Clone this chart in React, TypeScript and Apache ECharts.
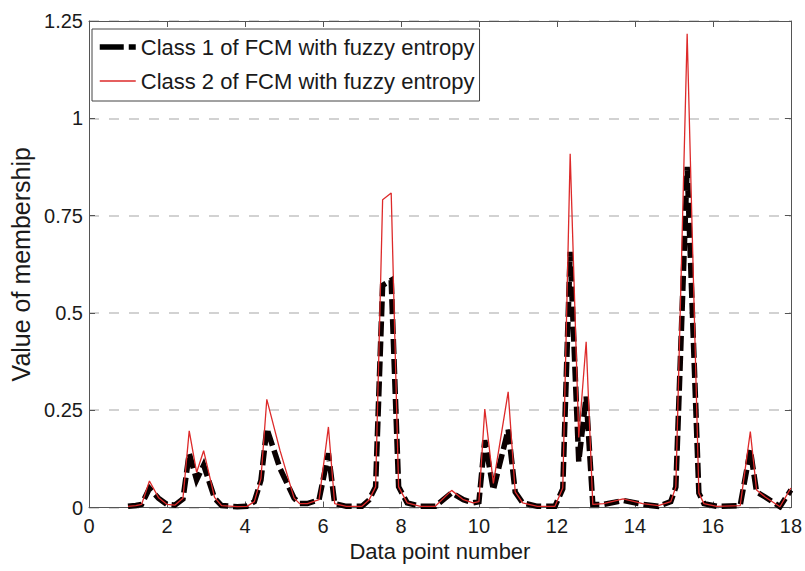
import React, { useEffect, useRef } from "react";
import * as echarts from "echarts";

const xs = [
  1.0, 1.2, 1.35, 1.55, 1.78, 2.0, 2.2, 2.41, 2.57, 2.76, 2.94, 3.22, 3.4, 3.8,
  4.05, 4.24, 4.41, 4.56, 4.9, 5.26, 5.4, 5.6, 5.9, 6.14, 6.3, 6.6, 7.0, 7.18,
  7.35, 7.53, 7.75, 7.94, 8.16, 8.5, 8.88, 9.3, 9.6, 9.85, 10.0, 10.15, 10.37,
  10.75, 10.93, 11.12, 11.5, 11.95, 12.15, 12.34, 12.56, 12.75, 12.92, 13.2,
  13.7, 14.2, 14.6, 14.92, 15.05, 15.34, 15.64, 15.77, 16.1, 16.7, 16.96, 17.12,
  17.34, 17.72, 18.0,
];

const class1 = [
  0.003, 0.005, 0.008, 0.049, 0.024, 0.008, 0.006, 0.022, 0.139, 0.071, 0.109,
  0.024, 0.005, 0.002, 0.003, 0.015, 0.07, 0.203, 0.1, 0.024, 0.01, 0.01, 0.02,
  0.139, 0.01, 0.003, 0.003, 0.019, 0.053, 0.571, 0.584, 0.053, 0.012, 0.003,
  0.003, 0.038, 0.02, 0.012, 0.015, 0.173, 0.045, 0.2, 0.04, 0.012, 0.003,
  0.003, 0.048, 0.657, 0.118, 0.285, 0.008, 0.008, 0.018, 0.008, 0.003, 0.015,
  0.053, 0.875, 0.037, 0.01, 0.003, 0.005, 0.148, 0.04, 0.027, 0.002, 0.045,
];

const class2 = [
  0.003, 0.005, 0.008, 0.068, 0.026, 0.008, 0.006, 0.024, 0.197, 0.09, 0.146,
  0.026, 0.005, 0.002, 0.003, 0.015, 0.075, 0.278, 0.146, 0.024, 0.01, 0.01,
  0.02, 0.207, 0.01, 0.003, 0.003, 0.019, 0.053, 0.791, 0.808, 0.053, 0.012,
  0.003, 0.003, 0.044, 0.02, 0.012, 0.015, 0.253, 0.062, 0.297, 0.04, 0.012,
  0.003, 0.003, 0.05, 0.909, 0.18, 0.426, 0.008, 0.01, 0.022, 0.01, 0.005,
  0.015, 0.053, 1.217, 0.037, 0.01, 0.003, 0.005, 0.195, 0.045, 0.027, 0.002,
  0.05,
];

const seriesNames = [
  "Class 1 of FCM with fuzzy entropy",
  "Class 2 of FCM with fuzzy entropy",
];

const FONT = "'Liberation Sans', Arial, Helvetica, sans-serif";
const AXIS_COLOR = "#555555";
const TEXT_COLOR = "#1a1a1a";
const RED = "#dd2a2a";

export default function App() {
  const ref = useRef<HTMLDivElement>(null);

  useEffect(() => {
    if (!ref.current) return;
    const chart = echarts.init(ref.current, null, { renderer: "svg" });
    const d1 = xs.map((x, i) => [x, class1[i]]);
    const d2 = xs.map((x, i) => [x, class2[i]]);

    const tickInside = { show: true, inside: true, length: 6, lineStyle: { color: AXIS_COLOR } };

    chart.setOption({
      animation: false,
      backgroundColor: "#ffffff",
      textStyle: { fontFamily: FONT, color: TEXT_COLOR },
      grid: { left: 87, right: 12, top: 21, bottom: 63.5, containLabel: false },
      legend: {
        orient: "vertical",
        left: 92,
        top: 29,
        padding: [7, 5, 9, 5],
        itemGap: 12,
        itemWidth: 36,
        itemHeight: 20,
        backgroundColor: "#ffffff",
        borderColor: "#444444",
        borderWidth: 1,
        itemStyle: { color: "rgba(0,0,0,0)", borderColor: "rgba(0,0,0,0)", borderWidth: 0 },
        textStyle: { fontSize: 22, fontFamily: FONT, color: TEXT_COLOR },
        data: [
          {
            name: seriesNames[0],
            lineStyle: { type: [24, 5], width: 5.5, color: "#000000", cap: "butt" },
          },
          {
            name: seriesNames[1],
            lineStyle: { width: 1.5, color: RED },
          },
        ],
      },
      xAxis: [
        {
          type: "value",
          min: 0,
          max: 18,
          interval: 2,
          name: "Data point number",
          nameLocation: "middle",
          nameGap: 33,
          nameTextStyle: { fontSize: 22, fontFamily: FONT, color: TEXT_COLOR },
          axisLine: { show: true, onZero: false, lineStyle: { color: AXIS_COLOR, width: 1 } },
          axisTick: tickInside,
          axisLabel: { fontSize: 20, fontFamily: FONT, color: TEXT_COLOR, margin: 8 },
          splitLine: { show: false },
        },
        {
          type: "value",
          position: "top",
          min: 0,
          max: 18,
          interval: 2,
          axisLine: { show: true, onZero: false, lineStyle: { color: AXIS_COLOR, width: 1 } },
          axisTick: tickInside,
          axisLabel: { show: false },
          splitLine: { show: false },
        },
      ],
      yAxis: [
        {
          type: "value",
          min: 0,
          max: 1.25,
          interval: 0.25,
          name: "Value of membership",
          nameLocation: "middle",
          nameGap: 56,
          nameTextStyle: { fontSize: 25, fontFamily: FONT, color: TEXT_COLOR },
          axisLine: { show: true, onZero: false, lineStyle: { color: AXIS_COLOR, width: 1 } },
          axisTick: tickInside,
          axisLabel: { fontSize: 20, fontFamily: FONT, color: TEXT_COLOR, margin: 6 },
          splitLine: {
            show: true,
            lineStyle: { color: "#c4c4c4", width: 1.5, type: [10, 10] },
          },
        },
        {
          type: "value",
          position: "right",
          min: 0,
          max: 1.25,
          interval: 0.25,
          axisLine: { show: true, onZero: false, lineStyle: { color: AXIS_COLOR, width: 1 } },
          axisTick: tickInside,
          axisLabel: { show: false },
          splitLine: { show: false },
        },
      ],
      series: [
        {
          name: seriesNames[0],
          type: "line",
          data: d1,
          symbol: "none",
          showSymbol: false,
          z: 2,
          lineStyle: { color: "#0a0000", width: 5.5, type: [15, 5], cap: "butt", join: "miter" },
          itemStyle: { color: "#000000" },
        },
        {
          name: seriesNames[1],
          type: "line",
          data: d2,
          symbol: "none",
          showSymbol: false,
          z: 3,
          lineStyle: { color: RED, width: 1.3 },
          itemStyle: { color: RED },
        },
      ],
    });

    return () => chart.dispose();
  }, []);

  return (
    <div
      ref={ref}
      style={{ position: "fixed", left: 0, top: 0, width: 805, height: 571, background: "#fff" }}
    />
  );
}
